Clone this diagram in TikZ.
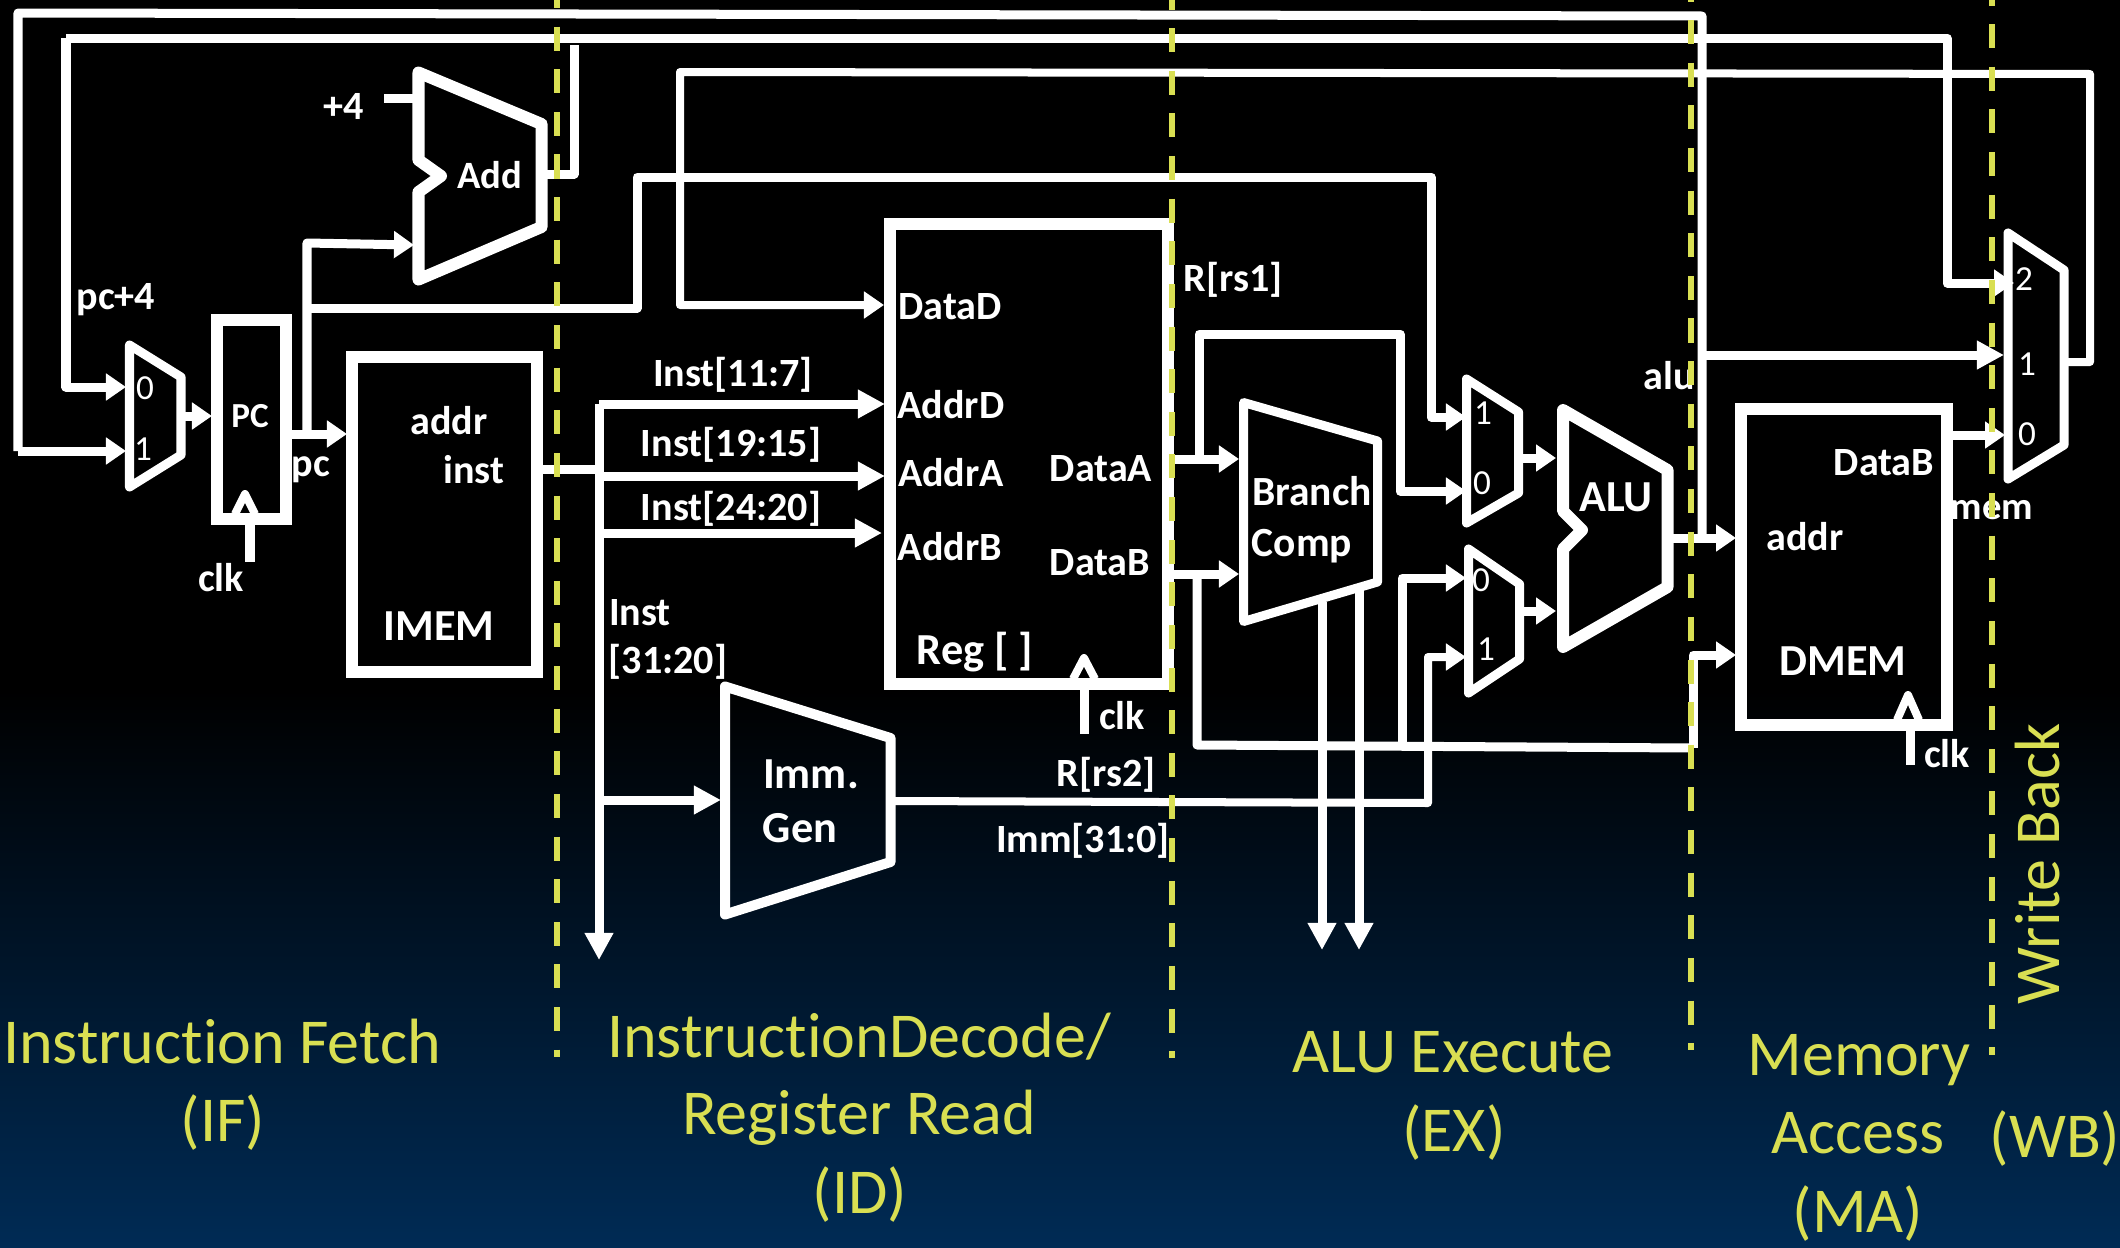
\documentclass[tikz,border=0pt]{standalone}
\usepackage{fontspec}
\setmainfont[Ligatures=CommonOff]{Carlito}
\usetikzlibrary{arrows.meta}
\definecolor{stageyellow}{HTML}{D9DF52}
\definecolor{bgbottom}{HTML}{002B55}
\tikzset{
  wire/.style={draw=white, line width=0.09cm, line join=round},
  arrowwire/.style={wire, -{Triangle[length=0.2cm,width=0.26cm]}},
  bigarrow/.style={wire, -{Triangle[length=0.27cm,width=0.27cm]}},
  blockbox/.style={draw=white, line width=0.12cm, minimum width=#1},
  muxline/.style={draw=white, line width=0.09cm, line join=round},
  unitline/.style={draw=white, line width=0.12cm, line join=round},
  clkmark/.style={draw=white, line width=0.08cm, line join=round},
  stageline/.style={draw=stageyellow, line width=0.065cm},
  lbl/.style={text=white, font=\bfseries\fontsize{11.4}{13.6}\selectfont, inner sep=0pt, yshift=-0.015cm},
  bigl/.style={text=white, font=\bfseries\fontsize{12.6}{15}\selectfont, inner sep=0pt},
  sel/.style={text=white, font=\fontsize{10}{12}\selectfont, inner sep=0pt},
  stage/.style={text=stageyellow, font=\fontsize{18.2}{22}\selectfont, inner sep=0pt}
}
\begin{document}
\begin{tikzpicture}[x=0.01cm,y=-0.01cm]
\useasboundingbox (0,0) rectangle (2120,1248);
\fill[black] (0,0) rectangle (2120,691);
\shade[top color=black, bottom color=bgbottom] (0,690) rectangle (2120,1248);

\node[blockbox=0.69cm, minimum height=1.99cm] (pc) at (251.5,419.5) {};
\node[blockbox=1.85cm, minimum height=3.15cm] (imem) at (444.5,514.5) {};
\node[blockbox=2.78cm, minimum height=4.60cm] (reg) at (1029,454) {};
\node[blockbox=2.06cm, minimum height=3.16cm] (dmem) at (1844,567) {};

\draw[muxline] (129.5,345) -- (181,377) -- (181,455) -- (129.5,487) -- cycle;
\draw[muxline] (1466.5,379) -- (1518.5,412) -- (1518.5,493) -- (1466.5,523) -- cycle;
\draw[muxline] (1468.5,549) -- (1519.5,584) -- (1519.5,659) -- (1468.5,693) -- cycle;
\draw[muxline] (2008,233) -- (2064,270) -- (2064,445) -- (2008,479) -- cycle;
\draw[unitline] (418.5,72.5) -- (541.5,124) -- (541.5,227) -- (418.5,279.5) -- (418.5,192) -- (441,176) -- (418.5,160) -- cycle;
\draw[unitline] (1563,410) -- (1667.5,470) -- (1667.5,587) -- (1563,647) -- (1563,549) -- (1582,530) -- (1563,511) -- cycle;
\draw[muxline] (1243.5,402.5) -- (1377.5,441) -- (1377.5,582) -- (1243.5,621.5) -- cycle;
\draw[muxline, line width=0.1cm] (725,686.5) -- (890.5,738) -- (890.5,862) -- (725,914.5) -- cycle;

\coordinate (topL) at (18,13);
\coordinate (topR) at (1702,16);
\coordinate (aluOut) at (1673,538);
\coordinate (aluJoin) at (1702,538);
\coordinate (dmemAddr) at (1736,538);
\coordinate (aluWb) at (1702,355);
\coordinate (wbOne) at (2004,355);
\coordinate (muxOneIn) at (126,451);
\coordinate (muxOneFar) at (18,451);
\coordinate (plusL) at (66,38);
\coordinate (plusR) at (1947,38);
\coordinate (muxZeroFar) at (66,387);
\coordinate (muxZeroIn) at (126,387);
\coordinate (addOut) at (547,174);
\coordinate (addUp) at (574,174);
\coordinate (addTop) at (574,45);
\coordinate (wbTwoFar) at (1947,283);
\coordinate (wbTwo) at (2014,283);
\coordinate (muxOut) at (185,416);
\coordinate (pcIn) at (212,416);
\coordinate (pcOut) at (292,434);
\coordinate (imemIn) at (347,434);
\coordinate (pcUp) at (307,434);
\coordinate (pcBranch) at (307,308);
\coordinate (addInFar) at (307,243);
\coordinate (addIn) at (414,245);
\coordinate (fourEnd) at (384,98);
\coordinate (fourIn) at (417,98);
\coordinate (pcRunA) at (637,308);
\coordinate (pcRunB) at (637,177);
\coordinate (pcRunC) at (1431,177);
\coordinate (pcRunD) at (1431,417);
\coordinate (aOneIn) at (1466,417);
\coordinate (wbLoopA) at (2068,362);
\coordinate (wbLoopB) at (2090,362);
\coordinate (wbLoopC) at (2090,74);
\coordinate (wbLoopD) at (680,72);
\coordinate (wbLoopE) at (680,305);
\coordinate (dataD) at (884,305);
\coordinate (instOut) at (543,469);
\coordinate (busJoin) at (599,469);
\coordinate (busTop) at (599,404);
\coordinate (busEnd) at (599,960);
\coordinate (addrD) at (885,404);
\coordinate (busA) at (599,476);
\coordinate (addrA) at (885,476);
\coordinate (busB) at (599,533);
\coordinate (addrB) at (882,533);
\coordinate (busImm) at (599,800);
\coordinate (immIn) at (721,800);
\coordinate (immOut) at (894,801);
\coordinate (immCorner) at (1428,803);
\coordinate (immUp) at (1428,657);
\coordinate (bOneIn) at (1466,657);
\coordinate (dataAOut) at (1174,459);
\coordinate (compA) at (1239,459);
\coordinate (fwdA) at (1199,459);
\coordinate (fwdAUp) at (1199,334);
\coordinate (fwdAOver) at (1400,334);
\coordinate (fwdADown) at (1400,491);
\coordinate (aZeroIn) at (1466,491);
\coordinate (dataBOut) at (1174,574);
\coordinate (compB) at (1239,574);
\coordinate (fwdB) at (1197,574);
\coordinate (fwdBDown) at (1197,745);
\coordinate (wdFar) at (1693,748);
\coordinate (wdUp) at (1693,655);
\coordinate (dmemData) at (1736,655);
\coordinate (bZeroFoot) at (1402,742);
\coordinate (bZeroUp) at (1402,578);
\coordinate (bZeroIn) at (1466,578);
\coordinate (aMuxOut) at (1522,458);
\coordinate (aluA) at (1556,458);
\coordinate (bMuxOut) at (1523,611);
\coordinate (aluB) at (1556,611);
\coordinate (eqOut) at (1322,602);
\coordinate (eqEnd) at (1322,950);
\coordinate (ltOut) at (1359,590);
\coordinate (ltEnd) at (1359,950);
\coordinate (memOut) at (1952,435);
\coordinate (wbZero) at (2005,435);
\coordinate (pcClk) at (250,525);
\coordinate (pcClkEnd) at (250,562);
\coordinate (regClk) at (1084,690);
\coordinate (regClkEnd) at (1084,734);
\coordinate (dmemClk) at (1910,731);
\coordinate (dmemClkEnd) at (1910,765);

\draw[wire] (muxOneFar) -- (topL) -- (topR) -- (aluJoin);
\draw[arrowwire] (muxOneFar) -- (muxOneIn);
\draw[arrowwire] (plusL) -- (muxZeroFar) -- (muxZeroIn);
\draw[arrowwire] (plusL) -- (plusR) -- (wbTwoFar) -- (wbTwo);
\draw[wire] (addOut) -- (addUp) -- (addTop);
\draw[arrowwire] (muxOut) -- (pcIn);
\draw[arrowwire] (pcOut) -- (imemIn);
\draw[arrowwire] (pcUp) -- (addInFar) -- (addIn);
\draw[wire] (fourEnd) -- (fourIn);
\draw[arrowwire] (pcBranch) -- (pcRunA) -- (pcRunB) -- (pcRunC) -- (pcRunD) -- (aOneIn);
\draw[arrowwire, line width=0.08cm] (wbLoopA) -- (wbLoopB) -- (wbLoopC) -- (wbLoopD) -- (wbLoopE) -- (dataD);
\draw[wire] (instOut) -- (busJoin);
\draw[bigarrow] (busTop) -- (busEnd);
\draw[bigarrow] (busTop) -- (addrD);
\draw[bigarrow] (busA) -- (addrA);
\draw[bigarrow] (busB) -- (addrB);
\draw[bigarrow] (busImm) -- (immIn);
\draw[arrowwire, line width=0.08cm] (immOut) -- (immCorner) -- (immUp) -- (bOneIn);
\draw[arrowwire] (dataAOut) -- (compA);
\draw[arrowwire] (fwdA) -- (fwdAUp) -- (fwdAOver) -- (fwdADown) -- (aZeroIn);
\draw[arrowwire] (dataBOut) -- (compB);
\draw[wire] (fwdB) -- (fwdBDown) -- (wdFar);
\draw[arrowwire] (wdFar) -- (wdUp) -- (dmemData);
\draw[arrowwire] (bZeroFoot) -- (bZeroUp) -- (bZeroIn);
\draw[arrowwire] (aMuxOut) -- (aluA);
\draw[arrowwire] (bMuxOut) -- (aluB);
\draw[bigarrow] (eqOut) -- (eqEnd);
\draw[bigarrow] (ltOut) -- (ltEnd);
\draw[arrowwire] (aluOut) -- (dmemAddr);
\draw[bigarrow] (aluWb) -- (wbOne);
\draw[arrowwire] (memOut) -- (wbZero);
\draw[wire] (pcClk) -- (pcClkEnd);
\draw[wire] (regClk) -- (regClkEnd);
\draw[wire] (dmemClk) -- (dmemClkEnd);

\draw[clkmark] (235,514) -- (245,494) -- (255,514);
\draw[clkmark] (1073,679) -- (1084,658) -- (1095,679);
\draw[clkmark] (1897,720) -- (1908,695) -- (1919,720);

\node[lbl] (pcfour) at (116,298) {pc+4};
\node[lbl] (plusfour) at (344,105) {+4};
\node[bigl, font=\bfseries\fontsize{11}{13}\selectfont] (addlbl) at (490,175) {Add};
\node[lbl, font=\bfseries\fontsize{10}{12}\selectfont] (pclbl) at (250,415) {PC};
\node[lbl] (pcname) at (311,468) {pc};
\node[lbl] (clkpc) at (221,576) {clk};
\node[lbl] (imaddr) at (449,419) {addr};
\node[lbl] (iminst) at (474,468) {inst};
\node[bigl] (imemlbl) at (439,626) {IMEM};
\node[sel] (zeropc) at (145,388) {0};
\node[sel] (onepc) at (143,449) {1};
\node[lbl] (inA) at (733,373) {Inst[11:7]};
\node[lbl] (inB) at (731,443) {Inst[19:15]};
\node[lbl] (inC) at (731,507) {Inst[24:20]};
\node[lbl] (inD) at (640,611) {Inst};
\node[lbl] (inE) at (668,660) {[31:20]};
\node[lbl] (dataDl) at (950,305) {DataD};
\node[lbl] (addrDl) at (951,403) {AddrD};
\node[lbl] (addrAl) at (951,471) {AddrA};
\node[lbl] (addrBl) at (950,545) {AddrB};
\node[lbl] (dataAl) at (1101,467) {DataA};
\node[lbl] (dataBl) at (1100,561) {DataB};
\node[bigl] (reglbl) at (975,652) {Reg [ ]};
\node[lbl] (clkreg) at (1122,714) {clk};
\node[bigl] (immA) at (811,774) {Imm.};
\node[bigl] (immB) at (800,828) {Gen};
\node[lbl] (rstwo) at (1106,773) {R[rs2]};
\node[lbl] (immval) at (1083,839) {Imm[31:0]};
\node[lbl] (rsone) at (1233,278) {R[rs1]};
\node[lbl, font=\bfseries\fontsize{11.8}{14}\selectfont] (brA) at (1312,490) {Branch};
\node[lbl, font=\bfseries\fontsize{11.8}{14}\selectfont] (brB) at (1302,545) {Comp};
\node[sel] (oneA) at (1483,413) {1};
\node[sel] (zeroA) at (1482,483) {0};
\node[sel] (zeroB) at (1481,580) {0};
\node[sel] (oneB) at (1486,649) {1};
\node[bigl] (alulbl) at (1616,497) {ALU};
\node[lbl] (alunm) at (1669,374) {alu};
\node[lbl] (dmB) at (1884,461) {DataB};
\node[lbl] (dmaddr) at (1805,535) {addr};
\node[bigl] (dmemlbl) at (1843,661) {DMEM};
\node[lbl] (clkdm) at (1947,752) {clk};
\node[lbl, font=\bfseries\fontsize{11}{13}\selectfont] (memnm) at (1992,509) {mem};
\node[sel] (twoW) at (2024,279) {2};
\node[sel] (oneW) at (2027,364) {1};
\node[sel] (zeroW) at (2027,434) {0};

\draw[stageline, dash pattern=on 0.24cm off 0.186cm, dash phase=0.16cm] (557,0) -- (557,1057);
\draw[stageline, dash pattern=on 0.24cm off 0.186cm, dash phase=0.145cm] (1172,0) -- (1172,1058);
\draw[stageline, dash pattern=on 0.24cm off 0.186cm, dash phase=0.225cm] (1691,0) -- (1691,1050);
\draw[stageline, dash pattern=on 0.24cm off 0.186cm, dash phase=0.185cm] (1992,0) -- (1992,1055);

\node[stage] (ifA) at (222,1042) {Instruction Fetch};
\node[stage] (ifB) at (223,1123) {(IF)};
\node[stage] (idA) at (859,1037) {InstructionDecode/};
\node[stage] (idB) at (859,1118) {Register Read};
\node[stage] (idC) at (860,1195) {(ID)};
\node[stage] (exA) at (1453,1052) {ALU Execute};
\node[stage] (exB) at (1454,1133) {(EX)};
\node[stage] (maA) at (1859,1060) {Memory};
\node[stage] (maB) at (1858,1133) {Access};
\node[stage] (maC) at (1858,1214) {(MA)};
\node[stage] (wbA) at (2055,1139) {(WB)};
\node[stage, rotate=90] (wbB) at (2037,864) {Write Back};
\end{tikzpicture}
\end{document}
